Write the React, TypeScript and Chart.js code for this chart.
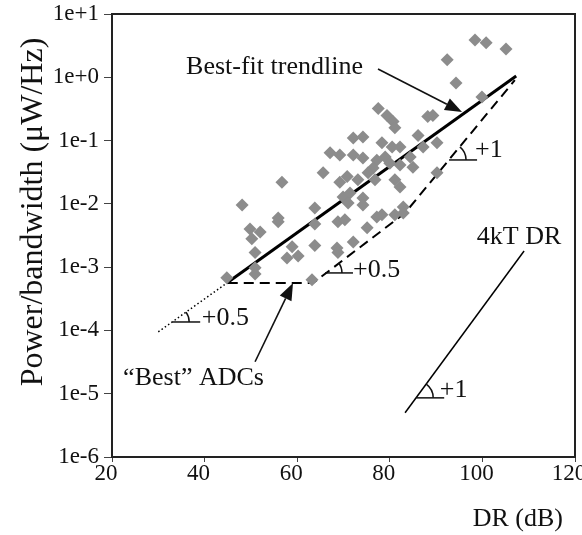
import React, { useEffect, useRef } from 'react';
import { Chart, registerables } from 'chart.js';

Chart.register(...registerables);

// ---- Data ----
const adcDR = [
  98.4, 100.8, 105.1, 92.4, 94.3, 99.9, 77.5, 79.4, 80.7, 81.1,
  88.2, 89.3, 86.1, 72.1, 74.2, 78.3, 80.5, 82.2, 87.2, 90.2,
  67.1, 69.2, 72.1, 74.2, 77.2, 79.0, 84.4, 82.2, 85.0, 76.4,
  80.0, 56.7, 65.6, 69.2, 73.1, 76.8, 81.1, 82.2, 90.2, 69.9,
  71.4, 74.2, 71.0, 74.2, 48.1, 63.8, 55.9, 55.9, 68.8, 70.3,
  77.2, 78.3, 81.1, 82.9, 82.9, 49.8, 52.0, 50.2, 75.1, 63.8,
  72.1, 68.6, 68.8, 63.8, 50.9, 58.9, 60.2, 57.8, 50.9, 50.9,
  44.8, 63.2, 70.8, 75.3,
];
const adcPower = [
  3.9, 3.5, 2.8, 1.9, 0.81, 0.49, 0.32, 0.25, 0.2, 0.16,
  0.24, 0.25, 0.12, 0.11, 0.114, 0.092, 0.079, 0.079, 0.079, 0.092,
  0.064, 0.059, 0.059, 0.053, 0.049, 0.055, 0.055, 0.041, 0.038, 0.037,
  0.044, 0.022, 0.031, 0.022, 0.024, 0.024, 0.024, 0.0185, 0.031, 0.0128,
  0.0149, 0.0124, 0.0103, 0.0096, 0.0096, 0.0086, 0.006, 0.0052, 0.0052, 0.0056,
  0.0062, 0.0067, 0.0067, 0.0089, 0.0072, 0.004, 0.0036, 0.0028, 0.0042, 0.0048,
  0.0025, 0.002, 0.0017, 0.0022, 0.0017, 0.0021, 0.0015, 0.0014, 0.00098, 0.00078,
  0.00068, 0.00063, 0.027, 0.031,
];

const trendDR = [44.8, 107.3];
const trendPower = [5.6e-4, 1.05];
const trendExtDR = [30, 44.8];
const trendExtPower = [9.5e-5, 5.6e-4];
const bestDR = [45, 63.4, 83.3, 107];
const bestPower = [5.6e-4, 5.6e-4, 7.2e-3, 0.9];
const ktDR = [83.3, 109];
const ktPower = [5e-6, 1.8e-3];

const xTickValues = [20, 40, 60, 80, 100, 120];
const yTickValues = [1e-6, 1e-5, 1e-4, 1e-3, 1e-2, 1e-1, 1e0, 1e1];
const yTickLabels = ['1e-6', '1e-5', '1e-4', '1e-3', '1e-2', '1e-1', '1e+0', '1e+1'];

// ---- Annotations (data coordinates) ----
const notes = [
  { text: 'Best-fit trendline', x: 36.0, y: 1.13 },
  { text: '+1', x: 98.4, y: 0.055 },
  { text: '+0.5', x: 72.05, y: 7.0e-4 },
  { text: '+0.5', x: 39.4, y: 1.22e-4 },
  { text: '\u201CBest\u201D ADCs', x: 22.4, y: 1.38e-5 },
  { text: '4kT DR', x: 98.8, y: 2.32e-3 },
  { text: '+1', x: 90.8, y: 8.9e-6 },
];
const arrows = [
  { fx: 77.45, fy: 1.35, tx: 95.6, ty: 0.283 },
  { fx: 50.9, fy: 3.2e-5, tx: 59.1, ty: 5.6e-4 },
];
const angleMarks = [
  { x: 92.8, y: 0.0494, dx: 107, dy: 0.9 },
  { x: 66.0, y: 8.1e-4, dx: 83.3, dy: 7.2e-3 },
  { x: 33.0, y: 1.36e-4, dx: 44.8, dy: 5.6e-4 },
  { x: 85.7, y: 8.6e-6, dx: 109, dy: 1.8e-3 },
];

const FONT = "'Liberation Serif', 'Times New Roman', serif";

const toPts = (xs: number[], ys: number[]) => xs.map((x, i) => ({ x, y: ys[i] }));

const overlay = {
  id: 'overlay',
  afterDatasetsDraw(chart: any) {
    const { ctx, chartArea } = chart;
    const xs = chart.scales.x;
    const ys = chart.scales.y;
    const px = (v: number) => xs.getPixelForValue(v);
    const py = (v: number) => ys.getPixelForValue(v);
    ctx.save();
    // frame
    ctx.strokeStyle = '#222';
    ctx.lineWidth = 2;
    ctx.strokeRect(chartArea.left, chartArea.top, chartArea.right - chartArea.left, chartArea.bottom - chartArea.top);

    // texts
    ctx.fillStyle = '#111';
    ctx.font = `26px ${FONT}`;
    ctx.textAlign = 'left';
    ctx.textBaseline = 'alphabetic';
    notes.forEach((n) => ctx.fillText(n.text, px(n.x), py(n.y)));

    // arrows
    ctx.strokeStyle = '#111';
    ctx.lineWidth = 1.6;
    arrows.forEach((a) => {
      const x1 = px(a.fx), y1 = py(a.fy), x2 = px(a.tx), y2 = py(a.ty);
      const ang = Math.atan2(y2 - y1, x2 - x1);
      const hl = 17, hw = 6.5;
      const bx = x2 - hl * Math.cos(ang), by = y2 - hl * Math.sin(ang);
      ctx.beginPath();
      ctx.moveTo(x1, y1);
      ctx.lineTo(bx, by);
      ctx.stroke();
      ctx.beginPath();
      ctx.moveTo(x2, y2);
      ctx.lineTo(bx + hw * Math.sin(ang), by - hw * Math.cos(ang));
      ctx.lineTo(bx - hw * Math.sin(ang), by + hw * Math.cos(ang));
      ctx.closePath();
      ctx.fill();
    });

    // angle marks
    ctx.lineWidth = 1.5;
    angleMarks.forEach((m) => {
      const vx = px(m.x), vy = py(m.y);
      const ang = Math.atan2(py(m.dy) - vy, px(m.dx) - vx);
      ctx.beginPath();
      ctx.moveTo(vx, vy);
      ctx.lineTo(vx + 28, vy);
      ctx.stroke();
      ctx.beginPath();
      ctx.arc(vx, vy, 17, ang, 0);
      ctx.stroke();
    });

    ctx.restore();
  },
  afterDraw(chart: any) {
    const { ctx, chartArea } = chart;
    ctx.save();
    ctx.fillStyle = '#111';
    ctx.font = `26px ${FONT}`;
    // x title
    ctx.textAlign = 'right';
    ctx.textBaseline = 'alphabetic';
    ctx.fillText('DR (dB)', chartArea.right - 12, 526);
    // y title
    ctx.font = `32px ${FONT}`;
    ctx.translate(42, 212);
    ctx.rotate(-Math.PI / 2);
    ctx.textAlign = 'center';
    ctx.fillText('Power/bandwidth (\u03BCW/Hz)', 0, 0);
    ctx.restore();
  },
};

export default function App() {
  const ref = useRef<HTMLCanvasElement>(null);
  useEffect(() => {
    if (!ref.current) return;
    const chart = new Chart(ref.current, {
      type: 'scatter',
      data: {
        datasets: [
          {
            label: 'ADCs',
            data: toPts(adcDR, adcPower),
            pointStyle: 'rectRot',
            pointRadius: 6.5,
            pointBackgroundColor: 'rgb(140,140,140)',
            pointBorderWidth: 0,
            showLine: false,
          },
          {
            label: 'Best-fit trendline',
            data: toPts(trendDR, trendPower),
            showLine: true,
            borderColor: '#000',
            borderWidth: 3,
            pointRadius: 0,
          },
          {
            label: 'Trend extension',
            data: toPts(trendExtDR, trendExtPower),
            showLine: true,
            borderColor: '#000',
            borderWidth: 1.5,
            borderDash: [1.5, 2.5],
            pointRadius: 0,
          },
          {
            label: 'Best ADCs',
            data: toPts(bestDR, bestPower),
            showLine: true,
            borderColor: '#000',
            borderWidth: 2,
            borderDash: [10, 6],
            pointRadius: 0,
          },
          {
            label: '4kT DR',
            data: toPts(ktDR, ktPower),
            showLine: true,
            borderColor: '#000',
            borderWidth: 1.5,
            pointRadius: 0,
          },
        ],
      },
      options: {
        animation: false,
        responsive: false,
        layout: { padding: { left: 0, right: 7, top: 14, bottom: 0 }, autoPadding: false },
        plugins: { legend: { display: false }, tooltip: { enabled: false } },
        scales: {
          x: {
            type: 'linear',
            min: 20,
            max: 120,
            border: { display: false },
            grid: { drawOnChartArea: false, drawTicks: true, tickLength: 5, color: '#444' },
            afterBuildTicks: (s: any) => {
              s.ticks = xTickValues.map((v) => ({ value: v }));
            },
            afterFit: (s: any) => {
              s.height = 78;
              s.paddingLeft = 0;
              s.paddingRight = 0;
              s.paddingTop = 0;
              s.paddingBottom = 0;
            },
            ticks: {
              font: { family: FONT, size: 23 },
              color: '#111',
              padding: -2,
              labelOffset: -6,
              maxRotation: 0,
              autoSkip: false,
            },
          },
          y: {
            type: 'logarithmic',
            min: 1e-6,
            max: 10,
            border: { display: false },
            grid: { drawOnChartArea: false, drawTicks: true, tickLength: 8, color: '#444' },
            afterBuildTicks: (s: any) => {
              s.ticks = yTickValues.map((v) => ({ value: v }));
            },
            afterFit: (s: any) => {
              s.width = 112;
              s.paddingLeft = 0;
              s.paddingRight = 0;
              s.paddingTop = 0;
              s.paddingBottom = 0;
            },
            ticks: {
              font: { family: FONT, size: 23 },
              color: '#111',
              padding: 5,
              autoSkip: false,
              callback: (_v: any, i: number) => yTickLabels[i],
            },
          },
        },
      },
      plugins: [overlay],
    });
    return () => chart.destroy();
  }, []);
  return (
    <div style={{ position: 'fixed', left: 0, top: 0, width: 582, height: 535, background: '#fff' }}>
      <canvas ref={ref} width={582} height={535} />
    </div>
  );
}
